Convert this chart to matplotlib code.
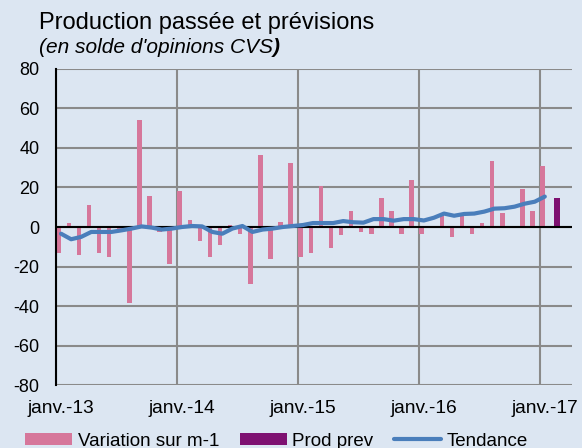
import numpy as np
import pandas as pd
import matplotlib.pyplot as plt

plt.rcParams['font.family'] = ['Liberation Sans', 'DejaVu Sans']
plt.rcParams['axes.unicode_minus'] = False

# Monthly data, janv. 2013 -> janv. 2017
months = pd.date_range('2013-01-01', '2017-01-01', freq='MS')

variation = [-13, 2, -14, 11, -13, -15, -1, -38.5, 54, 15.5, -2.5, -18.5,
             18, 3.7, -7, -15, -9, 1, -3.4, -28.7, 36.3, -16, 2.7, 32.6,
             -15, -13.3, 21, -10.6, -4.2, 8.1, -2.5, -3.4, 14.5, 8.1, -3.4, 23.7,
             -3.4, -0.5, 7.3, -5.1, 5.6, -3.4, 1.9, 33.6, 7.3, 0.3, 19.4, 8.1,
             30.9]

tendance = [-3.4, -6.2, -5, -2.5, -2.5, -2.5, -1.7, -0.8, 0.3, -0.3, -1.3, -0.8,
            0, 0.5, 0.3, -2.5, -3.4, -0.8, 0.5, -2.5, -1.3, -0.8, 0, 0.5,
            1, 2, 2, 2, 3, 2.4, 2.2, 4, 4, 3.2, 4, 4,
            3.3, 4.7, 6.8, 5.7, 6.6, 6.8, 7.8, 9.3, 9.5, 10.3, 11.8, 12.8,
            15.4]

prev_month = pd.Timestamp('2017-02-01')
prod_prev = [14.5]

tick_labels = ['janv.-13', 'janv.-14', 'janv.-15', 'janv.-16', 'janv.-17']

bg = '#DCE6F2'
pink = '#D6779B'
purple = '#7E1171'
blue = '#4A7EBB'
grid = '#8A8A8A'

# month index since janv.-13
idx = np.array([(m.year - 2013) * 12 + m.month - 1 for m in months])
prev_idx = (prev_month.year - 2013) * 12 + prev_month.month - 1

fig = plt.figure(figsize=(5.82, 4.48), dpi=100, facecolor=bg)
ax = fig.add_axes([56 / 582, 63 / 448, 516 / 582, 316 / 448], facecolor=bg)

b1 = ax.bar(idx + 0.28, variation, width=0.45, color=pink, zorder=2,
            label='Variation sur m-1')
b2 = ax.bar([prev_idx + 0.7], prod_prev, width=0.55, color=purple, zorder=2,
            label='Prod prev')
ax.axhline(0, color='black', linewidth=1.5, zorder=3)
l1, = ax.plot(idx + 0.5, tendance, color=blue, linewidth=3, zorder=4,
              label='Tendance', solid_capstyle='round')

ax.set_xlim(0, 51.2)
ax.set_ylim(-80, 80)
ax.set_yticks(np.arange(-80, 81, 20))
ax.set_xticks([0, 12, 24, 36, 48])
ax.set_xticks([0.5, 12.5, 24.5, 36.5, 48.5], minor=True)
ax.set_xticklabels(tick_labels, minor=True)
ax.set_xticklabels([])
ax.tick_params(axis='x', which='both', length=0)
ax.tick_params(axis='x', which='minor', pad=11, labelsize=13.8)
ax.tick_params(axis='y', length=0, pad=12, labelsize=13)
ax.grid(True, which='major', color=grid, linewidth=1.5, zorder=1)
ax.set_axisbelow(True)

for s in ['top', 'right', 'bottom']:
    ax.spines[s].set_visible(False)
ax.spines['left'].set_color('black')
ax.spines['left'].set_linewidth(1.5)
ax.spines['left'].set_zorder(5)

fig.text(39 / 582, 1 - 29 / 448, 'Production passée et prévisions',
         fontsize=17, va='baseline', ha='left')
t = fig.text(39 / 582, 1 - 53 / 448, "(en solde d'opinions CVS", fontsize=15,
             style='italic', va='baseline', ha='left')
fig.canvas.draw()
bb = t.get_window_extent()
fig.text(bb.x1 / fig.bbox.width, 1 - 53 / 448, ')', fontsize=15,
         fontweight='bold', style='italic', va='baseline', ha='left')

fig.legend([b1, b2, l1], ['Variation sur m-1', 'Prod prev', 'Tendance'],
           loc='center', bbox_to_anchor=(0.475, 1 - 441 / 448), ncol=3,
           frameon=False, fontsize=13.5, handlelength=2.5, handleheight=0.55,
           columnspacing=1.1, handletextpad=0.3, borderpad=0, borderaxespad=0)

fig.savefig('out.png', dpi=100, facecolor=bg)
